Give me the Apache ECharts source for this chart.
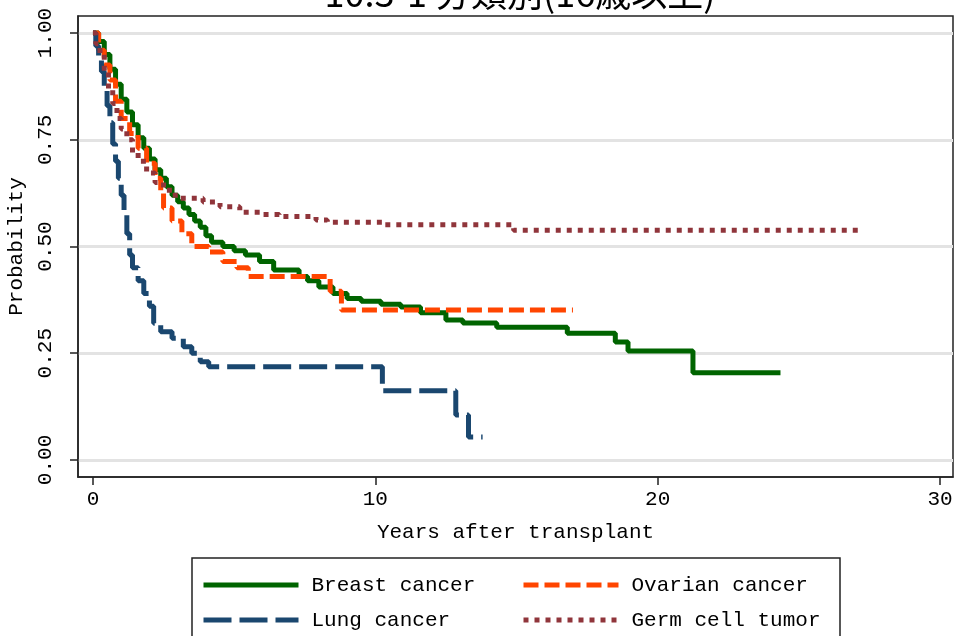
<!DOCTYPE html>
<html>
<head>
<meta charset="utf-8">
<script src="https://cdn.jsdelivr.net/npm/echarts@6/dist/echarts.min.js"></script>
<style>
  html, body { margin: 0; padding: 0; background: #fff; }
  #main { width: 955px; height: 636px; }
</style>
</head>
<body>
<div id="main"></div>
<script>
// Kaplan-Meier curves: [years, probability]
var breast = [
    [0, 1.00], [0.2, 0.98], [0.4, 0.95], [0.6, 0.915], [0.8, 0.88], [1.0, 0.845],
    [1.2, 0.815], [1.4, 0.785], [1.6, 0.755], [1.8, 0.73], [2.0, 0.705], [2.2, 0.68],
    [2.4, 0.66], [2.6, 0.64], [2.8, 0.62], [3.0, 0.605], [3.2, 0.59], [3.4, 0.575],
    [3.6, 0.56], [3.8, 0.545], [4.0, 0.525], [4.2, 0.51], [4.6, 0.5], [5.0, 0.49],
    [5.4, 0.48], [5.9, 0.465], [6.4, 0.445], [7.3, 0.43], [7.6, 0.42], [8.0, 0.405],
    [8.5, 0.39], [9.0, 0.378], [9.5, 0.372], [10.2, 0.365], [10.9, 0.358], [11.6, 0.345],
    [12.5, 0.328], [13.1, 0.321], [14.3, 0.311], [16.8, 0.297], [18.5, 0.276],
    [18.95, 0.255], [21.25, 0.204], [24.35, 0.204]
];
var ovarian = [
    [0, 1.00], [0.2, 0.96], [0.4, 0.925], [0.6, 0.89], [0.8, 0.84], [1.0, 0.80],
    [1.3, 0.765], [1.6, 0.73], [1.9, 0.695], [2.2, 0.66], [2.4, 0.625], [2.5, 0.59],
    [2.8, 0.56], [3.15, 0.53], [3.5, 0.50], [4.1, 0.487], [4.6, 0.465], [5.1, 0.45],
    [5.5, 0.43], [8.4, 0.395], [8.8, 0.351], [17.0, 0.351]
];
var lung = [
    [0, 1.00], [0.1, 0.97], [0.2, 0.94], [0.3, 0.91], [0.4, 0.875], [0.5, 0.83],
    [0.6, 0.79], [0.7, 0.74], [0.8, 0.70], [0.9, 0.66], [1.0, 0.62], [1.1, 0.58],
    [1.2, 0.53], [1.3, 0.48], [1.4, 0.45], [1.6, 0.42], [1.8, 0.39], [2.0, 0.36],
    [2.15, 0.32], [2.4, 0.30], [2.8, 0.285], [3.2, 0.265], [3.5, 0.25], [3.8, 0.23],
    [4.1, 0.218], [10.25, 0.162], [12.85, 0.105], [13.3, 0.054], [13.8, 0.054]
];
var germ = [
    [0, 1.00], [0.1, 0.975], [0.25, 0.95], [0.4, 0.91], [0.55, 0.87], [0.7, 0.835],
    [0.85, 0.80], [1.0, 0.775], [1.2, 0.75], [1.4, 0.72], [1.6, 0.70], [1.9, 0.672],
    [2.2, 0.65], [2.5, 0.632], [2.8, 0.62], [3.1, 0.613], [3.9, 0.604], [4.5, 0.593],
    [5.2, 0.58], [6.0, 0.575], [6.6, 0.57], [7.9, 0.562], [8.3, 0.557], [10.3, 0.551],
    [14.9, 0.538], [27.3, 0.538]
];

var xTicks = [0, 10, 20, 30];
var yTicks = [0, 0.25, 0.5, 0.75, 1];

var MONO = '"Liberation Mono", "DejaVu Sans Mono", monospace';

function kmLine(name, data, color, type, width) {
    return {
        name: name,
        type: 'line',
        step: 'end',
        data: data,
        symbol: 'none',
        showSymbol: false,
        lineStyle: { color: color, width: width, type: type, cap: 'butt' },
        itemStyle: { color: color }
    };
}

function legendBlock(names, left) {
    return {
        data: names,
        orient: 'vertical',
        left: left,
        top: 573,
        padding: 0,
        itemWidth: 95,
        itemHeight: 14,
        itemGap: 11,
        // hide the marker dot, keep the line sample
        itemStyle: { color: 'rgba(0,0,0,0)', borderColor: 'rgba(0,0,0,0)', borderWidth: 0 },
        lineStyle: { width: 5, cap: 'butt' },
        textStyle: { fontFamily: MONO, fontSize: 21, lineHeight: 24, color: '#000', padding: [0, 0, 0, 8] }
    };
}

var myChart = echarts.init(document.getElementById('main'));

var option = {
    animation: false,
    backgroundColor: '#fff',
    title: {
        text: '10.3-1 分類別(16歳以上)',
        left: 515,
        textAlign: 'center',
        top: -30,
        textStyle: {
            fontFamily: '"Noto Sans CJK JP"',
            fontSize: 36,
            fontWeight: 'normal',
            color: '#000'
        }
    },
    grid: {
        left: 78,
        top: 16,
        right: 2,
        bottom: 159,
        containLabel: false,
        outerBoundsMode: 'none',
        show: true,
        borderColor: '#222',
        borderWidth: 1.5,
        backgroundColor: '#fff'
    },
    graphic: [{
        type: 'rect',
        shape: { x: 192, y: 558, width: 648, height: 100 },
        style: { fill: 'none', stroke: '#222', lineWidth: 1.5 }
    }],
    legend: [
        legendBlock(['Breast cancer', 'Lung cancer'], 201),
        legendBlock(['Ovarian cancer', 'Germ cell tumor'], 521)
    ],
    xAxis: {
        type: 'value',
        min: -0.53,
        max: 30.46,
        name: 'Years after transplant',
        nameLocation: 'middle',
        nameGap: 45,
        nameTextStyle: { fontFamily: MONO, fontSize: 21, color: '#000' },
        axisLine: { show: true, onZero: false, lineStyle: { color: '#222', width: 1.5 } },
        axisTick: { show: true, length: 8, customValues: xTicks, lineStyle: { color: '#222', width: 1.5 } },
        axisLabel: { customValues: xTicks, margin: 12, fontFamily: MONO, fontSize: 21, color: '#000' },
        splitLine: { show: false }
    },
    yAxis: {
        type: 'value',
        min: -0.04,
        max: 1.04,
        name: 'Probability',
        nameLocation: 'middle',
        nameGap: 47,
        nameRotate: 90,
        nameTextStyle: { fontFamily: MONO, fontSize: 21, color: '#000' },
        axisLine: { show: true, onZero: false, lineStyle: { color: '#222', width: 1.5 } },
        axisTick: { show: true, length: 8, customValues: yTicks, lineStyle: { color: '#222', width: 1.5 } },
        axisLabel: {
            customValues: yTicks,
            rotate: 90,
            margin: 22,
            fontFamily: MONO,
            fontSize: 21,
            color: '#000',
            formatter: function (v) { return v.toFixed(2); }
        },
        splitLine: { show: true, lineStyle: { color: '#E3E3E3', width: 3 } }
    },
    series: [
        kmLine('Breast cancer', breast, '#006400', 'solid', 5),
        kmLine('Ovarian cancer', ovarian, '#FF4500', [15, 6], 5),
        kmLine('Lung cancer', lung, '#1A476F', [28, 8], 5),
        kmLine('Germ cell tumor', germ, '#90353B', [5, 6], 5)
    ]
};

myChart.setOption(option);
</script>
</body>
</html>
